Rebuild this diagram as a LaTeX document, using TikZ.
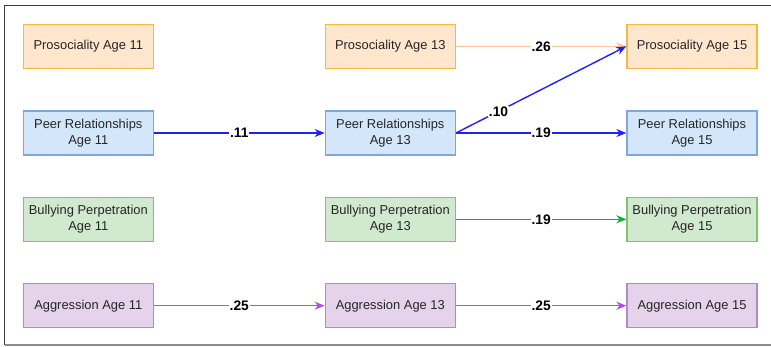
\documentclass[tikz,border=0pt]{standalone}
\usepackage{fontspec}
\setmainfont{Liberation Sans}
\usetikzlibrary{arrows.meta}
\definecolor{orF}{HTML}{FFE6CC}\definecolor{orD}{HTML}{F5B840}
\definecolor{blF}{HTML}{D4E6FA}\definecolor{blD}{HTML}{7EA6E0}
\definecolor{grF}{HTML}{D0E9CF}\definecolor{grD}{HTML}{82C46E}
\definecolor{puF}{HTML}{E4D3EA}\definecolor{puD}{HTML}{B08BC6}
\definecolor{blA}{HTML}{2020FF}\definecolor{orA}{HTML}{FFC890}
\definecolor{grA}{HTML}{00B82E}\definecolor{puA}{HTML}{B04CFF}
\tikzset{
  box/.style={draw, line width=1.3pt, minimum width=130pt, minimum height=44pt, align=center, inner sep=2pt,
    font=\fontsize{12.9}{16}\selectfont, text=black!85},
  obox/.style={box, fill=orF, draw=orD},
  bbox/.style={box, fill=blF, draw=blD},
  gbox/.style={box, fill=grF, draw=grD},
  pbox/.style={box, fill=puF, draw=puD},
  conn/.style={line width=1.4pt, -{Stealth[length=10pt,width=8pt]}},
  lbl/.style={fill=white, inner sep=0.8pt, font=\fontsize{13.8}{14}\selectfont\bfseries, text=black}
}
\begin{document}
\begin{tikzpicture}[x=1pt,y=-1pt]
\useasboundingbox (0,0) rectangle (771,346);
\fill[white] (0,0) rectangle (771,346);
\draw[line width=1.8pt, black!75] (771,5.5) -- (4.5,5.5) -- (4.5,345);
\draw[line width=1.3pt, black!45] (4.5,345) -- (771,345);
% column x: 88.3, 390.3, 692 ; row y: 46.3, 133, 219.3, 305.7
\node[obox] (p11) at (88.3,46.3) {Prosociality Age 11};
\node[obox] (p13) at (390.3,46.3) {Prosociality Age 13};
\node[obox] (p15) at (692,46.3) {Prosociality Age 15};
\node[bbox] (r11) at (88.3,133) {Peer Relationships\\Age 11};
\node[bbox] (r13) at (390.3,133) {Peer Relationships\\Age 13};
\node[bbox] (r15) at (692,133) {Peer Relationships\\Age 15};
\node[gbox] (b11) at (88.3,219.3) {Bullying Perpetration\\Age 11};
\node[gbox] (b13) at (390.3,219.3) {Bullying Perpetration\\Age 13};
\node[gbox] (b15) at (692,219.3) {Bullying Perpetration\\Age 15};
\node[pbox] (a11) at (88.3,305.7) {Aggression Age 11};
\node[pbox] (a13) at (390.3,305.7) {Aggression Age 13};
\node[pbox] (a15) at (692,305.7) {Aggression Age 15};
\draw[conn, orA] (p13.east) -- node[lbl] {.26} (p15.west);
\draw[conn, blA] (r11.east) -- node[lbl] {.11} (r13.west);
\draw[conn, blA] (r13.east) -- node[lbl, pos=0.25] {.10} (p15.west);
\draw[conn, blA] (r13.east) -- node[lbl] {.19} (r15.west);
\draw[conn, grA] (b13.east) -- node[lbl] {.19} (b15.west);
\draw[conn, puA] (a11.east) -- node[lbl] {.25} (a13.west);
\draw[conn, puA] (a13.east) -- node[lbl] {.25} (a15.west);
\end{tikzpicture}
\end{document}
